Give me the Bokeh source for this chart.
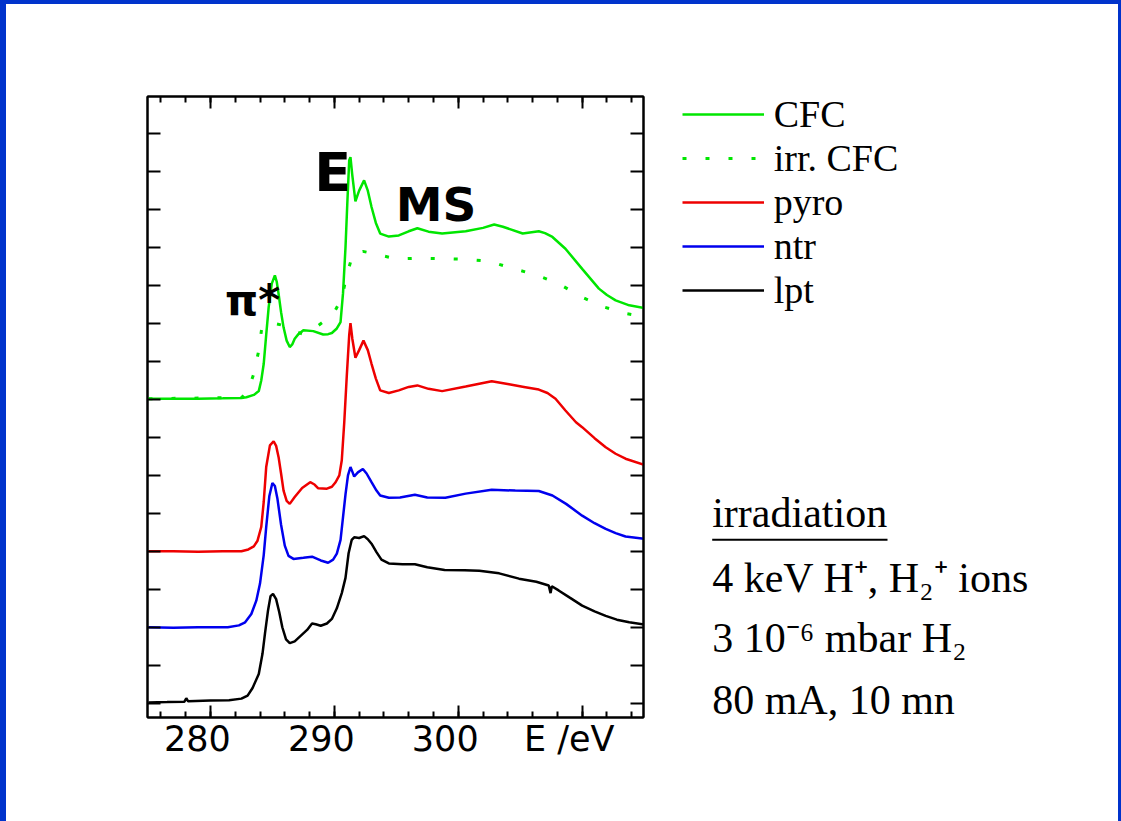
from bokeh.plotting import figure
from bokeh.layouts import row
from bokeh.models import (Range1d, FixedTicker, LinearAxis, Label, Legend, LegendItem,
                          GlobalInlineStyleSheet, CustomLabelingPolicy)
from bokeh.embed import file_html
from bokeh.resources import INLINE

# ---------------- data ----------------
lpt_x = [275.0, 276.5, 277.9, 278.05, 278.2, 280.0, 281.5, 282.5, 283.0, 283.4, 283.9, 284.2, 284.4,
         284.65, 284.85, 285.05, 285.3, 285.55, 285.8, 286.1, 286.4, 286.8, 287.3, 287.8, 288.2, 288.5,
         288.9, 289.4, 289.8, 290.2, 290.6, 290.9, 291.15, 291.4, 291.6, 292.0, 292.4, 292.7, 293.0,
         293.4, 293.8, 294.4, 295.5, 296.5, 297.5, 298.9, 300.5, 301.7, 303.3, 304.9, 306.3, 307.3,
         307.45, 307.55, 308.1, 309.0, 310.0, 311.0, 311.9, 312.8, 313.8, 315.0]
lpt_y = [0.02, 0.03, 0.04, 0.13, 0.05, 0.07, 0.08, 0.12, 0.2, 0.4, 0.77, 1.3, 1.83,
         2.45, 2.82, 2.88, 2.74, 2.4, 2.0, 1.68, 1.58, 1.63, 1.78, 1.93, 2.1, 2.08,
         2.04, 2.1, 2.22, 2.5, 2.9, 3.3, 3.95, 4.3, 4.37, 4.35, 4.4, 4.32, 4.2,
         3.98, 3.78, 3.68, 3.66, 3.66, 3.58, 3.51, 3.5, 3.49, 3.42, 3.28, 3.2, 3.1,
         2.9, 3.08, 2.97, 2.78, 2.57, 2.42, 2.3, 2.2, 2.13, 2.07]

ntr_x = [275.0, 277.0, 279.0, 281.4, 282.3, 282.8, 283.3, 283.7, 284.0, 284.3, 284.5, 284.75, 285.0,
         285.2, 285.4, 285.7, 286.0, 286.3, 286.7, 287.5, 288.2, 288.9, 289.5, 289.9, 290.2, 290.5,
         290.7, 290.9, 291.1, 291.3, 291.45, 291.6, 291.9, 292.3, 292.6, 293.0, 293.4, 293.7, 294.4,
         295.3, 296.5, 297.5, 298.96, 300.6, 302.7, 304.6, 306.5, 307.6, 308.7, 310.0, 311.0, 311.9,
         312.7, 313.5, 315.0]
ntr_y = [2.0, 1.99, 2.0, 2.0, 2.05, 2.13, 2.35, 2.7, 3.15, 3.9, 4.64, 5.45, 5.8,
         5.72, 5.4, 4.7, 4.15, 3.88, 3.8, 3.83, 3.86, 3.76, 3.7, 3.78, 3.94, 4.3,
         4.9, 5.5, 6.0, 6.22, 6.1, 5.97, 6.08, 6.17, 6.05, 5.82, 5.6, 5.47, 5.41,
         5.42, 5.49, 5.42, 5.41, 5.52, 5.62, 5.6, 5.59, 5.47, 5.25, 4.94, 4.74, 4.59,
         4.48, 4.39, 4.33]

pyro_x = [275.0, 277.0, 279.0, 281.0, 282.5, 283.06, 283.5, 283.8, 284.1, 284.3, 284.5, 284.8, 285.1,
          285.3, 285.5, 285.7, 285.9, 286.15, 286.4, 286.8, 287.1, 287.4, 288.05, 288.4, 288.7, 289.4,
          289.8, 290.1, 290.4, 290.6, 290.8, 291.0, 291.2, 291.3, 291.45, 291.7, 292.0, 292.35, 292.7,
          293.0, 293.35, 293.7, 294.4, 295.2, 296.0, 296.7, 297.6, 298.7, 300.6, 302.7, 304.1, 305.3,
          306.5, 307.2, 307.85, 308.65, 309.5, 310.0, 311.0, 311.9, 312.7, 313.5, 315.0]
pyro_y = [4.0, 4.0, 3.99, 4.0, 4.0, 4.05, 4.13, 4.28, 4.64, 5.3, 6.22, 6.79, 6.9,
          6.78, 6.48, 6.05, 5.6, 5.33, 5.25, 5.43, 5.55, 5.67, 5.82, 5.76, 5.66, 5.65,
          5.7, 5.82, 6.0, 6.4, 7.4, 8.6, 9.7, 10.01, 9.6, 9.1, 9.3, 9.55, 9.3,
          8.94, 8.55, 8.24, 8.17, 8.24, 8.33, 8.37, 8.28, 8.22, 8.34, 8.48, 8.4, 8.33,
          8.26, 8.17, 8.02, 7.71, 7.4, 7.27, 6.98, 6.74, 6.57, 6.44, 6.28]

cfc_x = [275.0, 277.0, 279.0, 281.0, 282.5, 282.9, 283.5, 283.9, 284.1, 284.3, 284.5, 284.7, 284.95,
         285.2, 285.35, 285.5, 285.7, 285.9, 286.15, 286.4, 286.6, 286.8, 287.1, 287.5, 288.3, 289.1,
         289.5, 289.8, 290.2, 290.5, 290.7, 290.9, 291.05, 291.2, 291.3, 291.45, 291.7, 292.0, 292.4,
         292.7, 293.0, 293.35, 293.7, 294.4, 295.2, 296.0, 296.7, 297.6, 298.7, 300.6, 302.0, 302.9,
         303.6, 305.2, 306.5, 307.0, 307.6, 308.65, 310.0, 311.35, 312.0, 312.7, 313.8, 315.0]
cfc_y = [8.02, 8.02, 8.02, 8.03, 8.04, 8.06, 8.12, 8.22, 8.5, 8.94, 9.7, 10.43, 11.05,
         11.27, 11.1, 10.78, 10.3, 9.9, 9.55, 9.38, 9.45, 9.6, 9.72, 9.82, 9.8, 9.71,
         9.72, 9.75, 9.87, 10.04, 10.8, 12.01, 13.2, 14.3, 14.38, 13.9, 13.22, 13.5, 13.77,
         13.5, 13.07, 12.65, 12.37, 12.29, 12.32, 12.43, 12.51, 12.42, 12.37, 12.43, 12.52, 12.61,
         12.55, 12.37, 12.43, 12.38, 12.28, 11.97, 11.44, 10.92, 10.75, 10.61, 10.48, 10.41]

irr_x = [275.0, 282.5, 283.0, 283.5, 283.9, 284.15, 284.6, 285.2, 285.9, 286.6, 287.4, 288.3, 289.25,
         290.0, 290.6, 291.0, 291.5, 292.3, 293.2, 295.0, 296.85, 298.7, 300.6, 302.5, 304.3, 306.2,
         308.1, 309.95, 311.8, 313.6, 315.0]
irr_y = [8.02, 8.05, 8.2, 8.68, 9.29, 9.9, 10.0, 10.0, 9.95, 9.82, 9.73, 9.85, 10.08,
         10.3, 10.67, 11.27, 11.84, 11.9, 11.84, 11.7, 11.72, 11.71, 11.69, 11.64, 11.46, 11.29,
         11.05, 10.7, 10.43, 10.26, 10.18]

series_names = ["CFC", "irr. CFC", "pyro", "ntr", "lpt"]

xtick_major = [280, 290, 300, 310]
xtick_minor = list(range(276, 315, 2))
xtick_labels = {310: "E /eV"}
ytick_major = list(range(0, 16))

peak_labels = ["π*", "E", "MS"]
peak_x = [283.4, 289.87, 298.2]
peak_y = [10.60, 13.97, 13.14]

info_lines = ["irradiation", "4 keV H\u207a, H\u2082\u207a ions", "3 10\u207b\u2076 mbar H\u2082", "80 mA, 10 mn"]

# ---------------- styles ----------------
GREEN = "#00e600"
RED = "#ee0000"
BLUE = "#0000ee"
LW = 2.5

page_css = GlobalInlineStyleSheet(
    css="html{height:100%;box-shadow:inset 6px 4px 0 0 #0033cc, inset -3px 0 0 0 #0033cc;}")
no_labels = CustomLabelingPolicy(code="for (const i of indices) { indices.unset(i) }\nreturn indices")

# ---------------- main plot ----------------
p = figure(width=660, height=821, min_border_left=147, min_border_right=17,
           min_border_top=96, min_border_bottom=104,
           x_range=Range1d(274.92, 314.95), y_range=Range1d(-0.377, 15.98),
           x_axis_location=None, y_axis_location=None,
           output_backend="svg", toolbar_location=None,
           background_fill_color="white", border_fill_alpha=0)
p.frame_align = False
p.stylesheets = [page_css]
p.grid.visible = False
p.outline_line_color = "black"
p.outline_line_width = 2

# a range shifted by ~13 px so the tick labels sit left of their ticks, as in the original
p.extra_x_ranges = {"labels": Range1d(274.92 + 1.05, 314.95 + 1.05)}

xt = FixedTicker(ticks=xtick_major, minor_ticks=xtick_minor)
yt = FixedTicker(ticks=ytick_major, minor_ticks=[])

bottom_axis = LinearAxis(ticker=xt)
top_axis = LinearAxis(ticker=xt)
left_axis = LinearAxis(ticker=yt)
right_axis = LinearAxis(ticker=yt)
p.add_layout(bottom_axis, "below")
p.add_layout(top_axis, "above")
p.add_layout(left_axis, "left")
p.add_layout(right_axis, "right")

for ax in [bottom_axis, top_axis]:
    ax.major_tick_in = 12
    ax.minor_tick_in = 6
for ax in [left_axis, right_axis]:
    ax.major_tick_in = 13
    ax.minor_tick_in = 0
for ax in [bottom_axis, top_axis, left_axis, right_axis]:
    ax.major_tick_out = 0
    ax.minor_tick_out = 0
    ax.axis_line_width = 2
    ax.axis_line_color = "black"
    ax.major_tick_line_width = 2
    ax.minor_tick_line_width = 2
    ax.major_tick_line_color = "black"
    ax.minor_tick_line_color = "black"
    ax.major_label_standoff = 0
    ax.major_label_policy = no_labels

label_axis = LinearAxis(x_range_name="labels", ticker=FixedTicker(ticks=xtick_major, minor_ticks=[]),
                        major_label_overrides=xtick_labels,
                        major_tick_in=0, major_tick_out=0, minor_tick_in=0, minor_tick_out=0,
                        axis_line_color=None, major_label_standoff=-10,
                        major_label_text_font="DejaVu Sans", major_label_text_font_size="35px",
                        major_label_text_color="black")
p.add_layout(label_axis, "below")

p.line(cfc_x, cfc_y, line_color=GREEN, line_width=LW)
p.line(irr_x, irr_y, line_color=GREEN, line_width=3, line_dash="4 19")
p.line(pyro_x, pyro_y, line_color=RED, line_width=LW)
p.line(ntr_x, ntr_y, line_color=BLUE, line_width=LW)
p.line(lpt_x, lpt_y, line_color="black", line_width=LW)

peak_sizes = ["42px", "54px", "47px"]
for lab, x, y, fs in zip(peak_labels, peak_x, peak_y, peak_sizes):
    p.add_layout(Label(x=x, y=y, text=lab, text_align="center", text_baseline="alphabetic",
                       text_font="DejaVu Sans", text_font_style="bold", text_font_size=fs,
                       text_color="black"))

# ---------------- side panel: legend and irradiation notes (page-pixel coordinates) ----------------
q = figure(width=461, height=821, min_border=0,
           x_range=Range1d(660, 1121), y_range=Range1d(821, 0),
           x_axis_location=None, y_axis_location=None,
           output_backend="svg", toolbar_location=None,
           background_fill_alpha=0, border_fill_alpha=0)
q.frame_align = False
q.outline_line_color = None
q.grid.visible = False

styles = [dict(line_color=GREEN, line_width=LW),
          dict(line_color=GREEN, line_width=3, line_dash="4 19"),
          dict(line_color=RED, line_width=LW),
          dict(line_color=BLUE, line_width=LW),
          dict(line_color="black", line_width=LW)]
# key glyphs only (single off-screen point, so nothing is drawn in the panel itself)
key_renderers = [q.line(x=[0], y=[0], **st) for st in styles]
legend = Legend(items=[LegendItem(label=n, renderers=[r]) for n, r in zip(series_names, key_renderers)],
                location=(21.7, 509), glyph_width=82, glyph_height=44, label_height=44,
                spacing=0, padding=0, margin=0, label_standoff=10,
                border_line_color=None, background_fill_alpha=0,
                label_text_font="Liberation Serif", label_text_font_size="38px",
                label_text_color="black")
q.add_layout(legend)

q.text(x=[711.7] * 4, y=[512.5, 577.5, 637.5, 699.5], text=info_lines,
       text_align="left", text_baseline="alphabetic",
       text_font="Liberation Serif", text_font_size="42px", text_color="black")
q.segment(x0=[711.7], y0=[539.3], x1=[887], y1=[539.3], line_color="black", line_width=2)

layout = row(p, q)
open("out.html", "w").write(file_html(layout, INLINE))
